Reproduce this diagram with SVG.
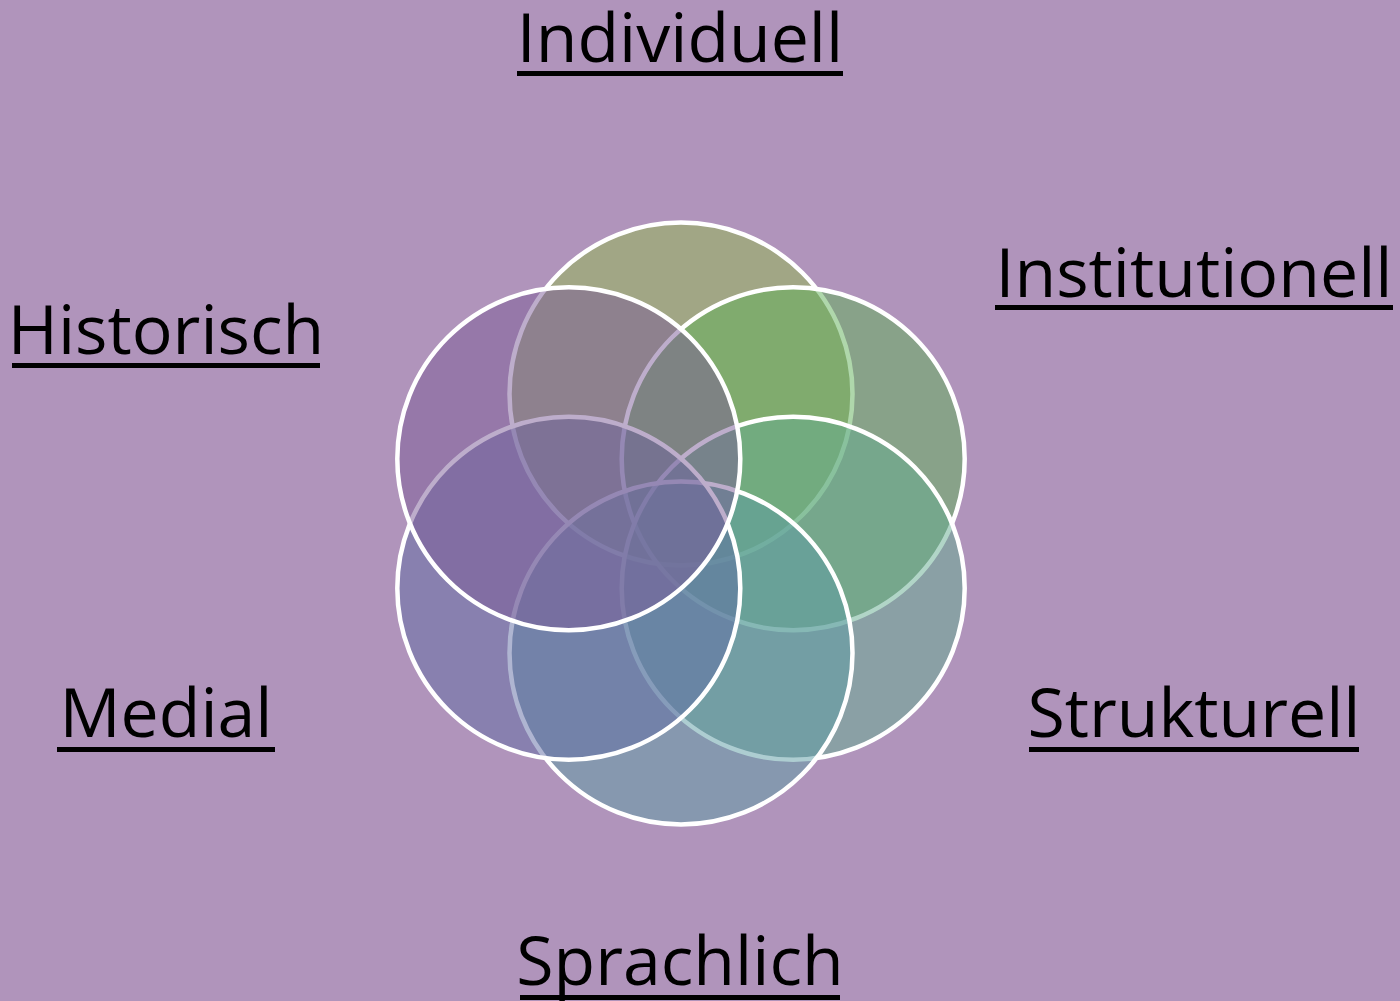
<svg xmlns="http://www.w3.org/2000/svg" width="1400" height="1001" viewBox="0 0 1400 1001">
  <style>
    .c { stroke: #FFFFFF; stroke-width: 4.5; fill-opacity: 0.5; }
    .t { font-family: "Open Sans", "Liberation Sans", sans-serif; font-size: 68px; fill: #000000; text-anchor: middle; }
    .u { fill: #000000; }
  </style>
  <rect x="0" y="0" width="1400" height="1001" fill="#B094BB"/>
  <g id="node-individuell">
    <circle class="c" cx="681" cy="394" r="171.5" fill="#92B850"/>
    <text class="t" x="680" y="62">Individuell</text>
    <rect class="u" x="517" y="71" width="326" height="5"/>
  </g>
  <g id="node-institutionell">
    <circle class="c" cx="793.2" cy="458.75" r="171.5" fill="#60B058"/>
    <text class="t" x="1194" y="297">Institutionell</text>
    <rect class="u" x="995" y="305" width="398" height="5"/>
  </g>
  <g id="node-strukturell">
    <circle class="c" cx="793.2" cy="588.25" r="171.5" fill="#64AC90"/>
    <text class="t" x="1194" y="737">Strukturell</text>
    <rect class="u" x="1029" y="747" width="330" height="5"/>
  </g>
  <g id="node-sprachlich">
    <circle class="c" cx="681" cy="653" r="171.5" fill="#5C9CA4"/>
    <text class="t" x="680" y="985">Sprachlich</text>
    <rect class="u" x="520" y="995" width="320" height="5"/>
  </g>
  <g id="node-medial">
    <circle class="c" cx="568.8" cy="588.25" r="171.5" fill="#606CA4"/>
    <text class="t" x="166" y="737">Medial</text>
    <rect class="u" x="57" y="747" width="218" height="5"/>
  </g>
  <g id="node-historisch">
    <circle class="c" cx="568.8" cy="458.75" r="171.5" fill="#7C5C98"/>
    <text class="t" x="166" y="354">Historisch</text>
    <rect class="u" x="12" y="363" width="308" height="5"/>
  </g>
</svg>
